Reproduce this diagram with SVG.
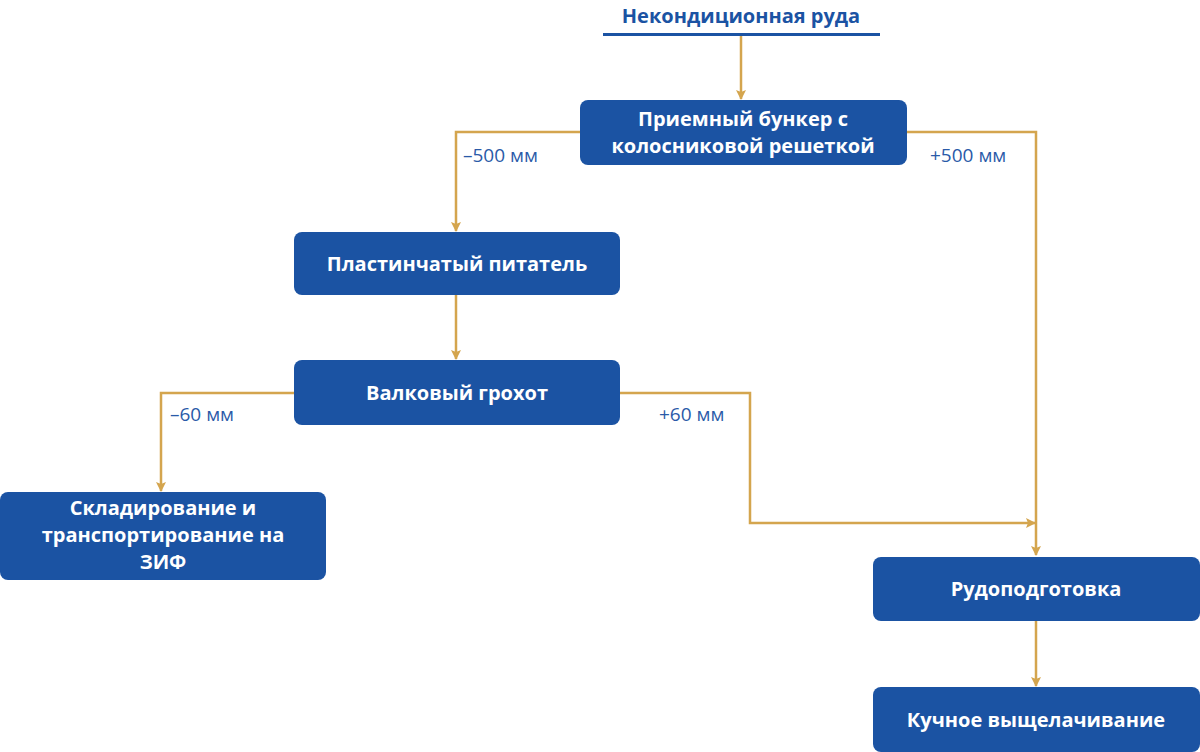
<svg xmlns="http://www.w3.org/2000/svg" width="1200" height="752" viewBox="0 0 1200 752">
<style>
.box{fill:#1b53a3}
.t{font-family:"Open Sans","Noto Sans",sans-serif;font-weight:700;font-size:20px;fill:#fff;text-anchor:middle}
.l{font-family:"Open Sans","Noto Sans",sans-serif;font-size:19px;fill:#2a5aa8}
.c{fill:none;stroke:#d4a54e;stroke-width:2.5}
</style>
<defs><marker id="a" markerWidth="10" markerHeight="10" refX="9" refY="5" orient="auto" markerUnits="userSpaceOnUse" viewBox="0 0 10 10"><path d="M0,0L10,5L0,10L2,5Z" fill="#d4a54e"/></marker></defs>
<rect width="1200" height="752" fill="#fff"/>
<g id="title"><text x="741" y="23" style="font-family:'Open Sans','Noto Sans',sans-serif;font-weight:700;font-size:20px;fill:#1b53a3;text-anchor:middle">Некондиционная руда</text><rect x="603" y="33" width="277" height="3" fill="#1b53a3"/></g>
<g id="connectors">
<path class="c" d="M741,36V99" marker-end="url(#a)"/>
<path class="c" d="M580,132H456V231" marker-end="url(#a)"/>
<path class="c" d="M907,132H1036V555" marker-end="url(#a)"/>
<path class="c" d="M456,295V359" marker-end="url(#a)"/>
<path class="c" d="M294,393H161V491" marker-end="url(#a)"/>
<path class="c" d="M620,393H750V523H1035" marker-end="url(#a)"/>
<path class="c" d="M1036,621V686" marker-end="url(#a)"/>
<text class="l" x="463" y="162">–500 мм</text>
<text class="l" x="930" y="162">+500 мм</text>
<text class="l" x="170" y="421">–60 мм</text>
<text class="l" x="659" y="421">+60 мм</text>
</g>
<g id="n1"><rect class="box" x="580" y="100" width="327" height="65" rx="8"/><text class="t" x="743" y="126">Приемный бункер с</text><text class="t" x="743" y="153">колосниковой решеткой</text></g>
<g id="n2"><rect class="box" x="294" y="232" width="326" height="63" rx="8"/><text class="t" x="457" y="271">Пластинчатый питатель</text></g>
<g id="n3"><rect class="box" x="294" y="360" width="326" height="65" rx="8"/><text class="t" x="457" y="400">Валковый грохот</text></g>
<g id="n4"><rect class="box" x="0" y="492" width="326" height="88" rx="8"/><text class="t" x="163" y="515">Складирование и</text><text class="t" x="163" y="542">транспортирование на</text><text class="t" x="163" y="569">ЗИФ</text></g>
<g id="n5"><rect class="box" x="873" y="557" width="327" height="64" rx="8"/><text class="t" x="1036" y="596">Рудоподготовка</text></g>
<g id="n6"><rect class="box" x="873" y="687" width="327" height="65" rx="8"/><text class="t" x="1036" y="727">Кучное выщелачивание</text></g>
</svg>
